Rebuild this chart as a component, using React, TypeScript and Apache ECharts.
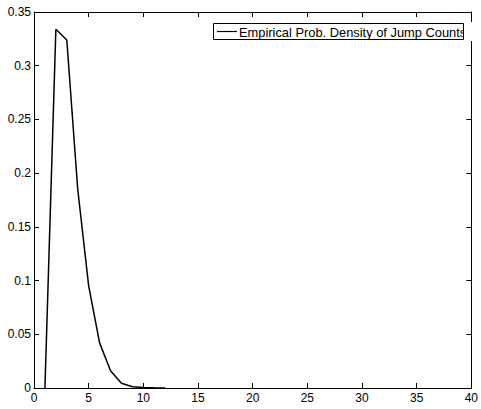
import React, { useEffect, useRef } from "react";
import * as echarts from "echarts";

const jumpCounts = [1, 2, 3, 4, 5, 6, 7, 8, 9, 10, 11, 12];
const density = [0, 0.334, 0.324, 0.185, 0.095, 0.042, 0.016, 0.0045, 0.0012, 0.0005, 0.0002, 0];
const legendLabel = "Empirical Prob. Density of Jump Counts";
const xTicks = { min: 0, max: 40, interval: 5 };
const yTicks = { min: 0, max: 0.35, interval: 0.05 };

const FONT = "Liberation Sans, Arial, Helvetica, sans-serif";

export default function App() {
  const ref = useRef<HTMLDivElement>(null);
  useEffect(() => {
    if (!ref.current) return;
    const chart = echarts.init(ref.current, undefined, { renderer: "svg" });
    const axisBase = {
      axisLine: { show: true, onZero: false, lineStyle: { color: "#000", width: 1 } },
      axisTick: { show: true, inside: true, length: 5, lineStyle: { color: "#000" } },
      splitLine: { show: false },
    };
    const fmtY = (v: number) => String(parseFloat(v.toFixed(2)));
    chart.setOption({
      animation: false,
      backgroundColor: "#fff",
      grid: { left: 34, top: 12, right: 7, bottom: 21, containLabel: false },
      xAxis: [
        {
          type: "value",
          position: "bottom",
          ...xTicks,
          ...axisBase,
          axisLabel: { color: "#000", fontSize: 12, fontFamily: FONT, margin: 4 },
        },
        {
          type: "value",
          position: "top",
          ...xTicks,
          ...axisBase,
          axisLabel: { show: false },
        },
      ],
      yAxis: [
        {
          type: "value",
          position: "left",
          ...yTicks,
          ...axisBase,
          axisLabel: { color: "#000", fontSize: 12, fontFamily: FONT, margin: 3, formatter: fmtY },
        },
        {
          type: "value",
          position: "right",
          ...yTicks,
          ...axisBase,
          axisLabel: { show: false },
        },
      ],
      series: [
        {
          type: "line",
          name: legendLabel,
          data: jumpCounts.map((x, i) => [x, density[i]]),
          showSymbol: false,
          symbol: "none",
          lineStyle: { color: "#000", width: 1.5 },
          xAxisIndex: 0,
          yAxisIndex: 0,
        },
      ],
      graphic: [
        {
          type: "rect",
          shape: { x: 213.5, y: 23.5, width: 250, height: 16 },
          style: { fill: "#fff", stroke: null },
          z: 10,
        },
        {
          type: "line",
          shape: { x1: 217, y1: 31.5, x2: 237, y2: 31.5 },
          style: { stroke: "#000", lineWidth: 1.2 },
          z: 11,
        },
        {
          type: "text",
          x: 239,
          y: 32,
          scaleX: 0.99,
          style: {
            text: legendLabel,
            fill: "#000",
            fontSize: 13,
            fontFamily: FONT,
            verticalAlign: "middle",
            align: "left",
          },
          z: 11,
        },
        {
          type: "rect",
          shape: { x: 464, y: 22, width: 8, height: 19 },
          style: { fill: "#fff", stroke: null },
          z: 12,
        },
        {
          type: "rect",
          shape: { x: 213.5, y: 23.5, width: 250, height: 16 },
          style: { fill: null, stroke: "#000", lineWidth: 1 },
          z: 13,
        },
      ],
    });
    return () => chart.dispose();
  }, []);
  return <div ref={ref} style={{ width: 481, height: 409, position: "absolute", left: 0, top: 0 }} />;
}
